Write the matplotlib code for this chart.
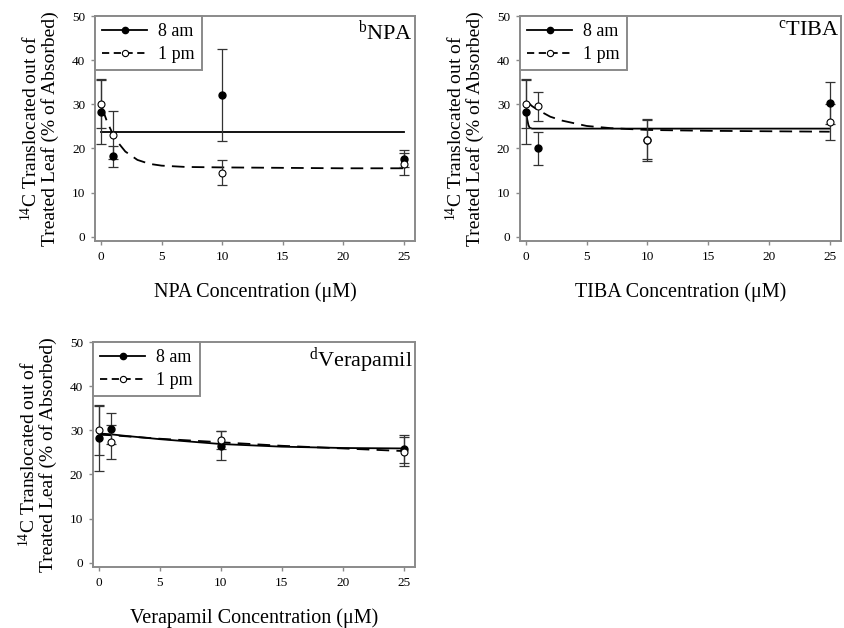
import matplotlib
matplotlib.use("Agg")
import matplotlib.pyplot as plt

plt.rcParams["font.family"] = ["Liberation Serif", "DejaVu Serif"]
plt.rcParams["mathtext.fontset"] = "custom"
plt.rcParams["mathtext.rm"] = "Liberation Serif"
plt.rcParams["mathtext.it"] = "Liberation Serif:italic"

conc = [0, 1, 10, 25]

# NPA
npa_am = [28.3, 18.2, 32.1, 17.7]
npa_am_err = [7.4, 2.3, 10.5, 1.9]
npa_pm = [30.1, 23.0, 14.5, 16.5]
npa_pm_err = [5.4, 5.4, 2.8, 2.5]
npa_fit_am_x = [0, 25]
npa_fit_am_y = [23.8, 23.8]
npa_fit_pm_x = [0.1, 0.5, 1, 1.5, 2, 3, 4, 5, 7, 10, 15, 20, 25]
npa_fit_pm_y = [29.1, 26.0, 23.1, 21.0, 19.3, 17.4, 16.5, 16.1, 15.8, 15.7, 15.6, 15.5, 15.5]

# TIBA
tiba_am = [28.3, 20.0, 22.0, 30.3]
tiba_am_err = [7.4, 3.8, 4.4, 4.7]
tiba_pm = [30.1, 29.6, 21.9, 26.0]
tiba_pm_err = [5.4, 3.3, 4.8, 4.0]
tiba_fit_am_x = [0, 0.1, 0.2, 0.3, 0.5, 1, 25]
tiba_fit_am_y = [28.3, 26.6, 25.3, 24.7, 24.5, 24.5, 24.5]
tiba_fit_pm_x = [0.1, 0.5, 1, 2, 3, 5, 7, 10, 15, 20, 25]
tiba_fit_pm_y = [30.6, 29.6, 28.7, 27.2, 26.3, 25.1, 24.6, 24.2, 24.0, 23.9, 23.8]

# Verapamil
ver_am = [28.2, 30.4, 26.5, 25.8]
ver_am_err = [7.5, 3.6, 3.3, 3.2]
ver_pm = [30.0, 27.4, 27.8, 25.2]
ver_pm_err = [5.5, 3.9, 2.0, 3.2]
ver_fit_x = [0, 1, 2, 5, 10, 15, 20, 25]
ver_fit_am_y = [29.3, 29.1, 28.8, 28.0, 26.9, 26.3, 26.0, 25.9]
ver_fit_pm_y = [29.0, 28.9, 28.7, 28.1, 27.3, 26.5, 25.9, 25.3]

xticks = [0, 5, 10, 15, 20, 25]
yticks = [0, 10, 20, 30, 40, 50]
ylabel = "$^{14}$C Translocated out of\nTreated Leaf (% of Absorbed)"
frame = "#8a8a8a"


def draw_panel(ax, am, am_err, pm, pm_err, fam_x, fam_y, fpm_x, fpm_y, tag, name):
    ax.plot(fam_x, fam_y, color="black", lw=1.3, ls="-")
    ax.plot(fpm_x, fpm_y, color="black", lw=1.3, ls=(0, (7, 4)))
    ax.errorbar(conc, am, yerr=am_err, fmt="none", ecolor="#333333",
                elinewidth=0.9, capsize=3.5, capthick=0.9)
    ax.errorbar(conc, pm, yerr=pm_err, fmt="none", ecolor="#333333",
                elinewidth=0.9, capsize=3.5, capthick=0.9)
    ax.plot(conc, am, "o", color="black", ms=5, ls="none")
    ax.plot(conc, pm, "o", mfc="white", mec="black", mew=0.8, ms=5, ls="none")

    # legend handles
    h1, = ax.plot([], [], color="black", lw=1.3, marker="o", ms=4.5)
    h2, = ax.plot([], [], color="black", lw=1.3, ls=(0, (4, 2.5)),
                  marker="o", ms=4.5, mfc="white", mec="black", mew=0.8)
    leg = ax.legend([h1, h2], ["8 am", "1 pm"], loc="upper left",
                    borderaxespad=0, fancybox=False, fontsize=13,
                    handlelength=2.5, handletextpad=0.6, labelspacing=0.3,
                    borderpad=0.4, framealpha=1)
    leg.get_frame().set_edgecolor(frame)
    leg.get_frame().set_linewidth(1.4)

    ax.text(0.995, 0.985, "$^{\\mathrm{" + tag + "}}$" + name, transform=ax.transAxes,
            ha="right", va="top", fontsize=16)

    ax.set_xlim(-0.5, 25.9)
    ax.set_ylim(-1, 50)
    ax.set_xticks(xticks)
    ax.set_yticks(yticks)
    ax.tick_params(direction="out", length=3, width=1, color=frame,
                   labelsize=9.5, pad=4)
    for s in ax.spines.values():
        s.set_color(frame)
        s.set_linewidth(1.4)
    ax.set_xlabel(name + " Concentration (μM)", fontsize=14.5, labelpad=14)
    ax.set_ylabel(ylabel, fontsize=14, labelpad=9, linespacing=1.0)


fig = plt.figure(figsize=(8.44, 6.28), dpi=100)
ax1 = fig.add_axes([0.1126, 0.6162, 0.379, 0.358])
ax2 = fig.add_axes([0.616, 0.6162, 0.380, 0.358])
ax3 = fig.add_axes([0.110, 0.0971, 0.3815, 0.358])

draw_panel(ax1, npa_am, npa_am_err, npa_pm, npa_pm_err,
           npa_fit_am_x, npa_fit_am_y, npa_fit_pm_x, npa_fit_pm_y, "b", "NPA")
draw_panel(ax2, tiba_am, tiba_am_err, tiba_pm, tiba_pm_err,
           tiba_fit_am_x, tiba_fit_am_y, tiba_fit_pm_x, tiba_fit_pm_y, "c", "TIBA")
draw_panel(ax3, ver_am, ver_am_err, ver_pm, ver_pm_err,
           ver_fit_x, ver_fit_am_y, ver_fit_x, ver_fit_pm_y, "d", "Verapamil")

fig.savefig("out.png", dpi=100)
